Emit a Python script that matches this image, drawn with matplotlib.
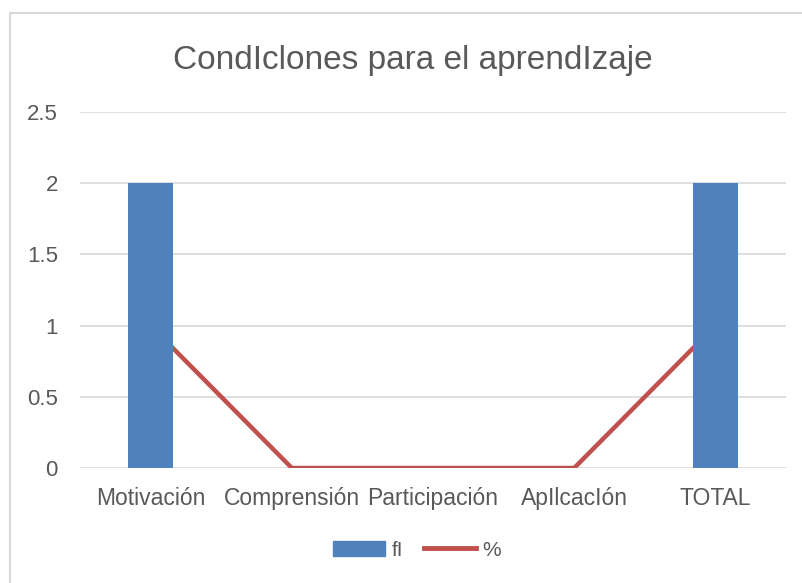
import matplotlib
matplotlib.use("Agg")
import matplotlib.pyplot as plt
from matplotlib.patches import Rectangle
from matplotlib.lines import Line2D

categories = ["Motivación", "Comprensión", "Participación", "ApIlcacIón", "TOTAL"]
fi_values = [2, 0, 0, 0, 2]
pct_values = [1, 0, 0, 0, 1]
yticks = [0, 0.5, 1, 1.5, 2, 2.5]
ytick_labels = ["0", "0.5", "1", "1.5", "2", "2.5"]
title = "CondIclones para el aprendIzaje"
legend_labels = ["fI", "%"]

plt.rcParams['font.family'] = ['Liberation Sans', 'DejaVu Sans']

W, H = 803, 583
fig = plt.figure(figsize=(W/100, H/100), dpi=100)
fig.patches.append(Rectangle((10/W, -0.1), 1.2, 1 - 13/H + 0.1, transform=fig.transFigure,
                             fill=False, edgecolor="#D9D9D9", linewidth=1.5))

ax = fig.add_axes([80/W, 1 - 468/H, (786-80)/W, (468-112)/H])
x = list(range(len(categories)))
blue = "#4F81BD"
red = "#C0504D"
text_col = "#595959"

ax.plot(x, pct_values, color=red, linewidth=3.2, zorder=2, solid_capstyle="butt")
ax.bar(x, fi_values, width=0.32, color=blue, zorder=3)

ax.set_xlim(-0.5, len(categories) - 0.5)
ax.set_ylim(0, 2.5)
ax.set_yticks(yticks)
ax.set_yticklabels(ytick_labels)
ax.set_xticks(x)
ax.set_xticklabels(categories)
ax.grid(axis="y", color="#D9D9D9", linewidth=1.2, zorder=1)
ax.set_axisbelow(True)
for s in ax.spines.values():
    s.set_visible(False)
ax.tick_params(axis="both", length=0, colors=text_col)
ax.tick_params(axis="y", pad=16, labelsize=16)
ax.tick_params(axis="x", pad=14, labelsize=16.5)

fig.text(413/W, 1 - 60/H, title, ha="center", va="center", fontsize=24, color=text_col)

handles = [Rectangle((0, 0), 1, 1, color=blue),
           Line2D([0], [0], color=red, linewidth=3.5)]
fig.legend(handles, legend_labels, loc="center", bbox_to_anchor=(417/W, 1 - 550/H),
           ncol=2, frameon=False, fontsize=15, labelcolor=text_col,
           handlelength=2.5, handleheight=0.7, columnspacing=1.0, handletextpad=0.3)

fig.savefig("out.png", dpi=100)
